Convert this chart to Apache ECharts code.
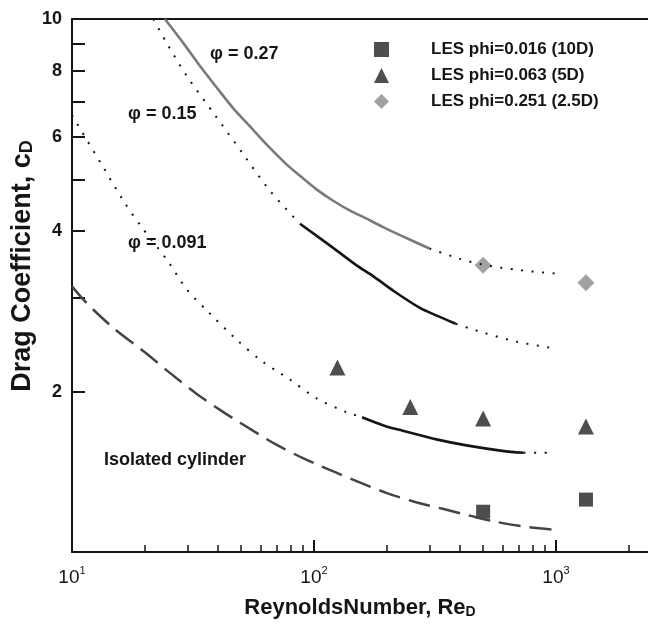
<!DOCTYPE html>
<html><head><meta charset="utf-8">
<script src="https://cdn.jsdelivr.net/npm/echarts@6/dist/echarts.min.js"></script>
<style>html,body{margin:0;padding:0;background:#fff}#c{width:648px;height:624px}</style>
</head><body><div id="c"></div>
<script>
// ---- data ----
const isoRe = [10, 11.5, 15, 20, 25, 33, 43, 57, 69, 90, 123, 158, 200, 264, 340, 440, 560, 750, 1000];
const isoCd = [3.15, 2.93, 2.62, 2.37, 2.18, 1.975, 1.82, 1.68, 1.595, 1.50, 1.41, 1.345, 1.29, 1.24, 1.205, 1.17, 1.14, 1.115, 1.10];

const phi091DotRe = [10, 13.5, 16.3, 19.4, 24.6, 29.8, 36.6, 48, 61, 79, 103, 136, 158];
const phi091DotCd = [6.6, 5.26, 4.56, 4.07, 3.54, 3.11, 2.82, 2.50, 2.28, 2.11, 1.94, 1.83, 1.79];
const phi091SolidRe = [158, 195, 231, 324, 427, 600, 735];
const phi091SolidCd = [1.79, 1.726, 1.69, 1.625, 1.585, 1.548, 1.535];
const phi091TailRe = [735, 933];
const phi091TailCd = [1.535, 1.535];

const phi15DotRe = [21.7, 24.6, 29.8, 39, 51.1, 65.8, 87.5];
const phi15DotCd = [10, 9.02, 7.82, 6.60, 5.57, 4.76, 4.13];
const phi15SolidRe = [87.5, 120, 150, 176, 213, 274, 325, 385];
const phi15SolidCd = [4.13, 3.72, 3.45, 3.29, 3.09, 2.87, 2.77, 2.68];
const phi15TailRe = [385, 442, 500, 690, 982];
const phi15TailCd = [2.68, 2.625, 2.58, 2.48, 2.41];

const phi27SolidRe = [24.2, 28.8, 33.8, 39.6, 46.5, 54.5, 63.8, 77.2, 87.5, 102.5, 120, 141, 165, 193, 227, 300];
const phi27SolidCd = [10, 9.02, 8.16, 7.44, 6.79, 6.28, 5.81, 5.33, 5.08, 4.79, 4.56, 4.37, 4.22, 4.07, 3.93, 3.71];
const phi27TailRe = [300, 400, 500, 700, 1000];
const phi27TailCd = [3.71, 3.55, 3.46, 3.38, 3.33];

const les016Re = [500, 1330];
const les016Cd = [1.19, 1.254];
const les063Re = [125, 250, 500, 1330];
const les063Cd = [2.22, 1.87, 1.78, 1.72];
const les251Re = [500, 1330];
const les251Cd = [3.45, 3.20];

const xMajorTicks = [10, 100, 1000];
const xMinorTicks = [20, 30, 40, 50, 60, 70, 80, 90, 200, 300, 400, 500, 600, 700, 800, 900, 2000];
const yTicks = [1, 2, 3, 4, 5, 6, 7, 8, 9, 10];
const yLabels = [2, 4, 6, 8, 10];
const xMin = 10, xMax = 2400, yMin = 1, yMax = 10;

// ---- build ----
const zip = (a, b) => a.map((v, i) => [v, b[i]]);
const lg = v => Math.log10(v);
const INK = '#151515';
const FONT = 'Liberation Sans';

function lineSeries(name, re, cd, color, width, type) {
  return {
    name, type: 'line', xAxisIndex: 0, yAxisIndex: 0, data: zip(re, cd),
    symbol: 'none', smooth: 0.3, silent: true,
    lineStyle: { color, width, type, cap: 'butt' }
  };
}
const DOT = [2, 8.5];
const subRich = size => ({ d: { fontSize: size, fontWeight: 'bold', fontFamily: FONT, color: INK, fill: INK, verticalAlign: 'bottom', padding: [9, 0, 0, 0] } });

const chart = echarts.init(document.getElementById('c'), null, { renderer: 'canvas' });
chart.setOption({
  animation: false,
  backgroundColor: '#fff',
  grid: { left: 72, top: 19, width: 576, height: 541, containLabel: false },
  xAxis: [
    { type: 'log', logBase: 10, min: xMin, max: xMax, show: false },
    { type: 'value', min: lg(xMin), max: lg(xMax), position: 'bottom',
      axisLine: { show: true, lineStyle: { color: INK, width: 2 } },
      splitLine: { show: false },
      axisTick: { show: true, inside: true, length: 12, lineStyle: { color: INK, width: 2 }, customValues: xMajorTicks.map(lg) },
      axisLabel: { show: true, margin: 13, customValues: xMajorTicks.map(lg),
        formatter: v => '{n|10}{s|' + Math.round(v) + '}',
        rich: { n: { fontSize: 19, fontFamily: FONT, color: INK, lineHeight: 22, verticalAlign: 'bottom' },
                s: { fontSize: 11, fontFamily: FONT, color: INK, lineHeight: 22, verticalAlign: 'top' } } },
      name: 'ReynoldsNumber, Re{d|D}', nameLocation: 'middle', nameGap: 44,
      nameTextStyle: { fontSize: 22, fontWeight: 'bold', fontFamily: FONT, color: INK, rich: subRich(14) }
    },
    { type: 'value', min: lg(xMin), max: lg(xMax), position: 'bottom',
      axisLine: { show: false }, splitLine: { show: false }, axisLabel: { show: false },
      axisTick: { show: true, inside: true, length: 7, lineStyle: { color: INK, width: 1.5 }, customValues: xMinorTicks.map(lg) } },
    { type: 'value', min: lg(xMin), max: lg(xMax), position: 'top',
      axisLine: { show: true, lineStyle: { color: INK, width: 2 } },
      axisTick: { show: false }, axisLabel: { show: false }, splitLine: { show: false } }
  ],
  yAxis: [
    { type: 'log', logBase: 10, min: yMin, max: yMax, show: false },
    { type: 'value', min: lg(yMin), max: lg(yMax), position: 'left',
      axisLine: { show: true, lineStyle: { color: INK, width: 2 } },
      splitLine: { show: false },
      axisTick: { show: true, inside: true, length: 13, lineStyle: { color: INK, width: 2 }, customValues: yTicks.map(lg) },
      axisLabel: { show: true, margin: 10, customValues: yLabels.map(lg),
        formatter: v => String(Math.round(Math.pow(10, v))),
        fontSize: 18, fontWeight: 'bold', fontFamily: FONT, color: INK }
    }
  ],
  legend: {
    orient: 'vertical', left: 369, top: 36, itemWidth: 15, itemHeight: 15, itemGap: 9,
    data: [
      { name: 'LES phi=0.016 (10D)', icon: 'rect' },
      { name: 'LES phi=0.063 (5D)', icon: 'triangle' },
      { name: 'LES phi=0.251 (2.5D)', icon: 'diamond' }
    ],
    formatter: n => '{g|}' + n,
    textStyle: { fontSize: 17, fontWeight: 'bold', fontFamily: FONT, color: INK,
      rich: { g: { width: 37 } } },
    selectedMode: false
  },
  graphic: [
    { type: 'text', x: 23, y: 266, rotation: Math.PI / 2,
      style: { text: 'Drag Coefficient, c{d|D}', fontSize: 27, fontWeight: 'bold', fontFamily: FONT, fill: INK,
               align: 'center', verticalAlign: 'middle', rich: subRich(18) } },
    { type: 'text', left: 210, top: 45, style: { text: 'φ = 0.27', fontSize: 18, fontWeight: 'bold', fontFamily: FONT, fill: INK } },
    { type: 'text', left: 128, top: 105, style: { text: 'φ = 0.15', fontSize: 18, fontWeight: 'bold', fontFamily: FONT, fill: INK } },
    { type: 'text', left: 128, top: 234, style: { text: 'φ = 0.091', fontSize: 18, fontWeight: 'bold', fontFamily: FONT, fill: INK } },
    { type: 'text', left: 104, top: 451, style: { text: 'Isolated cylinder', fontSize: 18, fontWeight: 'bold', fontFamily: FONT, fill: INK } }
  ],
  series: [
    lineSeries('Isolated cylinder', isoRe, isoCd, '#444', 2.5, [22, 9]),
    lineSeries('phi091a', phi091DotRe, phi091DotCd, INK, 2, DOT),
    lineSeries('phi091b', phi091SolidRe, phi091SolidCd, INK, 2.6, 'solid'),
    lineSeries('phi091c', phi091TailRe, phi091TailCd, INK, 2, DOT),
    lineSeries('phi15a', phi15DotRe, phi15DotCd, INK, 2, DOT),
    lineSeries('phi15b', phi15SolidRe, phi15SolidCd, INK, 2.6, 'solid'),
    lineSeries('phi15c', phi15TailRe, phi15TailCd, INK, 2, DOT),
    lineSeries('phi27a', phi27SolidRe, phi27SolidCd, '#7a7a7a', 2.6, 'solid'),
    lineSeries('phi27b', phi27TailRe, phi27TailCd, INK, 2, DOT),
    { name: 'LES phi=0.016 (10D)', type: 'scatter', xAxisIndex: 0, yAxisIndex: 0, data: zip(les016Re, les016Cd),
      symbol: 'rect', symbolSize: 14, itemStyle: { color: '#222' } },
    { name: 'LES phi=0.063 (5D)', type: 'scatter', xAxisIndex: 0, yAxisIndex: 0, data: zip(les063Re, les063Cd),
      symbol: 'triangle', symbolSize: 16, itemStyle: { color: '#222' } },
    { name: 'LES phi=0.251 (2.5D)', type: 'scatter', xAxisIndex: 0, yAxisIndex: 0, data: zip(les251Re, les251Cd),
      symbol: 'diamond', symbolSize: 17, itemStyle: { color: '#8a8a8a' } }
  ]
});
</script>
</body></html>
